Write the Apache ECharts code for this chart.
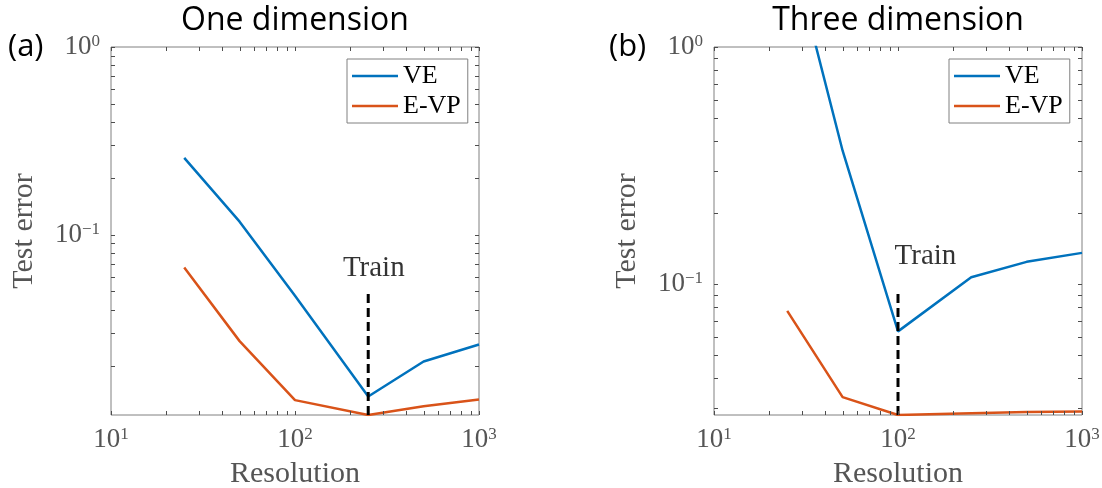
<!DOCTYPE html>
<html><head><meta charset="utf-8">
<script src="https://cdn.jsdelivr.net/npm/echarts@6/dist/echarts.min.js"></script>
<style>html,body{margin:0;padding:0;background:#fff}#c{width:1102px;height:488px}</style>
</head><body><div id="c"></div>
<script>
// ---------------- data ----------------
const resolution = [25, 50, 100, 250, 500, 1000];
const seriesNames = ['VE', 'E-VP'];
const veOneDim = [0.257, 0.1176, 0.0474, 0.0138, 0.0212, 0.0261];
const evpOneDim = [0.0670, 0.0272, 0.0132, 0.0110, 0.01225, 0.0133];
const veThreeDim = [3.0, 0.365, 0.0631, 0.1067, 0.124, 0.1353];
const evpThreeDim = [0.0770, 0.0333, 0.0280, 0.0285, 0.0288, 0.0290];
const panelTitles = ['One dimension', 'Three dimension'];
const panelTags = ['(a)', '(b)'];
const xRange = [10, 1000];
const yRanges = [[0.0110, 1], [0.0280, 1]];
const trainResolution = [250, 100];
const trainLineTop = [0.05, 0.0923];
const trainLabelAt = [[268, 0.066], [141, 0.1304]];
const trainText = 'Train';
const xName = 'Resolution';
const yName = 'Test error';

// ---------------- style ----------------
const SERIF = 'Liberation Serif';
const SANS = 'Open Sans';
const GRAY = '#555555';
const BLUE = '#0072BD';
const ORANGE = '#D95319';
const gridBoxes = [{left: 111, top: 47, width: 368, height: 368}, {left: 714, top: 47, width: 368, height: 368}];

function powLabel(v) {
  const e = Math.log10(v);
  const r = Math.round(e);
  if (Math.abs(e - r) > 1e-6) return '';
  const s = r < 0 ? '\u2212' + (-r) : String(r);
  return '{b|10}{s|' + s + '}';
}
const labelRich = {
  b: {fontFamily: SERIF, fontSize: 27, lineHeight: 28, color: GRAY},
  s: {fontFamily: SERIF, fontSize: 17, lineHeight: 17, color: GRAY, verticalAlign: 'top'}
};

function tickData(xr, yr) {
  const d = [];
  for (let e = -3; e <= 3; e++) {
    for (let m = 1; m <= 9; m++) {
      const v = m * Math.pow(10, e);
      if (v >= xr[0] * 0.9999 && v <= xr[1] * 1.0001) d.push([v, yr[0], 0]);
      if (v >= yr[0] * 0.9999 && v <= yr[1] * 1.0001) d.push([xr[0], v, 1]);
    }
  }
  return d;
}

function renderTick(params, api) {
  const cs = params.coordSys;
  const p = api.coord([api.value(0), api.value(1)]);
  const L = 4;
  const st = {stroke: '#4d4d4d', lineWidth: 1};
  if (api.value(2) === 0) {
    const x = Math.round(p[0]) + 0.5;
    return {type: 'group', children: [
      {type: 'line', shape: {x1: x, y1: cs.y + cs.height, x2: x, y2: cs.y + cs.height - L}, style: st},
      {type: 'line', shape: {x1: x, y1: cs.y, x2: x, y2: cs.y + L}, style: st}
    ]};
  }
  const y = Math.round(p[1]) + 0.5;
  return {type: 'group', children: [
    {type: 'line', shape: {x1: cs.x, y1: y, x2: cs.x + L, y2: y}, style: st},
    {type: 'line', shape: {x1: cs.x + cs.width, y1: y, x2: cs.x + cs.width - L, y2: y}, style: st}
  ]};
}

const grids = [], xAxes = [], yAxes = [], series = [], legends = [], graphics = [];
const panelData = [[veOneDim, evpOneDim], [veThreeDim, evpThreeDim]];
const legendLeft = [347, 949];

for (let i = 0; i < 2; i++) {
  const g = gridBoxes[i];
  grids.push({left: g.left, top: g.top, width: g.width, height: g.height, show: true,
    borderColor: '#808080', borderWidth: 1, backgroundColor: '#fff',
    containLabel: false, outerBoundsMode: 'none'});
  xAxes.push({type: 'log', logBase: 10, gridIndex: i, min: xRange[0], max: xRange[1],
    name: xName, nameLocation: 'middle', nameGap: 44,
    nameTextStyle: {fontFamily: SERIF, fontSize: 30, color: GRAY},
    axisLine: {show: false}, axisTick: {show: false}, splitLine: {show: false}, minorTick: {show: false},
    axisLabel: {formatter: powLabel, margin: 11, rich: labelRich, showMinLabel: true, showMaxLabel: true, hideOverlap: false}});
  yAxes.push({type: 'log', logBase: 10, gridIndex: i, min: yRanges[i][0], max: yRanges[i][1],
    name: yName, nameLocation: 'middle', nameGap: 72, nameRotate: 90,
    nameTextStyle: {fontFamily: SERIF, fontSize: 30, color: GRAY},
    axisLine: {show: false}, axisTick: {show: false}, splitLine: {show: false}, minorTick: {show: false},
    axisLabel: {formatter: powLabel, margin: 11, rich: labelRich, showMinLabel: true, showMaxLabel: true, hideOverlap: false}});
  const [ve, evp] = panelData[i];
  series.push({type: 'line', name: seriesNames[0], xAxisIndex: i, yAxisIndex: i, symbol: 'none',
    data: resolution.map((r, k) => [r, ve[k]]), lineStyle: {color: BLUE, width: 2.5}, itemStyle: {color: BLUE}, clip: true, z: 3});
  series.push({type: 'line', name: seriesNames[1], xAxisIndex: i, yAxisIndex: i, symbol: 'none',
    data: resolution.map((r, k) => [r, evp[k]]), lineStyle: {color: ORANGE, width: 2.5}, itemStyle: {color: ORANGE}, clip: true, z: 3});
  series.push({type: 'line', name: 'train-line', xAxisIndex: i, yAxisIndex: i, symbol: 'none',
    data: [[trainResolution[i], yRanges[i][0]], [trainResolution[i], trainLineTop[i]]],
    lineStyle: {color: '#000', width: 3, type: [9, 5]}, z: 4});
  series.push({type: 'scatter', name: 'train-label', xAxisIndex: i, yAxisIndex: i, symbolSize: 0,
    data: [trainLabelAt[i]],
    label: {show: true, position: 'inside', formatter: trainText, fontFamily: SERIF, fontSize: 29, color: '#000'}, z: 5});
  series.push({type: 'custom', name: 'ticks', xAxisIndex: i, yAxisIndex: i, clip: false, silent: true,
    data: tickData(xRange, yRanges[i]), renderItem: renderTick, z: 6});
  legends.push({data: seriesNames, orient: 'vertical', left: legendLeft[i], top: 59,
    backgroundColor: '#fff', borderColor: '#808080', borderWidth: 1, borderRadius: 0,
    padding: [4, 7, 4, 5], itemGap: 4, itemWidth: 46, itemHeight: 2.5, icon: 'rect',
    selectedMode: false,
    textStyle: {fontFamily: SERIF, fontSize: 26, lineHeight: 26, color: '#000'}});
  graphics.push({type: 'text', x: g.left + g.width / 2, y: 21,
    style: {text: panelTitles[i], font: '32px "' + SANS + '"', fill: '#000', textAlign: 'center', textVerticalAlign: 'middle'}});
}
graphics.push({type: 'text', x: 8, y: 47, style: {text: panelTags[0], font: '31px "' + SANS + '"', fill: '#000', textAlign: 'left', textVerticalAlign: 'middle'}});
graphics.push({type: 'text', x: 609, y: 47, style: {text: panelTags[1], font: '31px "' + SANS + '"', fill: '#000', textAlign: 'left', textVerticalAlign: 'middle'}});

const chart = echarts.init(document.getElementById('c'), null, {renderer: 'canvas'});
chart.setOption({
  animation: false,
  backgroundColor: '#fff',
  grid: grids, xAxis: xAxes, yAxis: yAxes, series: series, legend: legends, graphic: graphics
});
</script></body></html>
